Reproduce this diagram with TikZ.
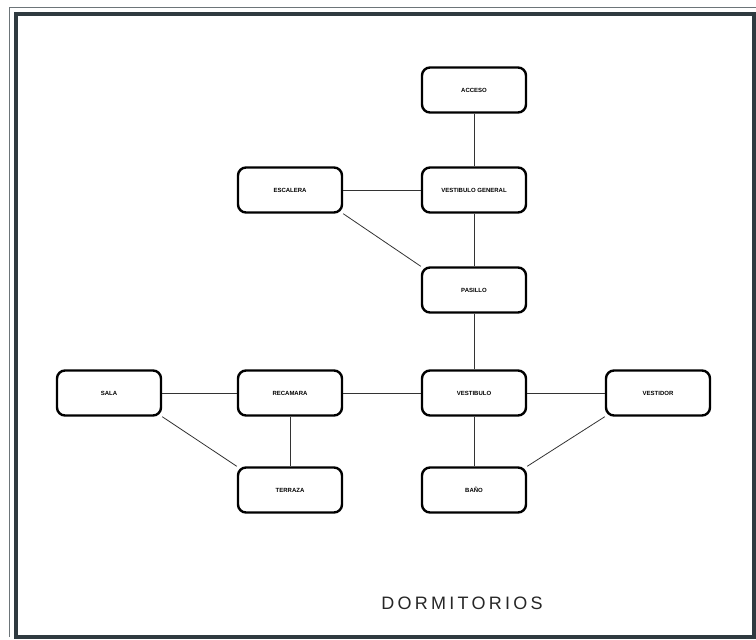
\documentclass[tikz,border=0pt]{standalone}
\usepackage{fontspec}
\setmainfont{Liberation Sans}
\newfontfamily\titlefont[LetterSpace=18]{Liberation Sans}
\usetikzlibrary{positioning}
\definecolor{frameclr}{HTML}{2F3A40}

\begin{document}
\begin{tikzpicture}[x=1pt,y=1pt,
  zona/.style={draw,line width=2.4pt,rounded corners=8pt,minimum width=104pt,minimum height=45pt,inner sep=1pt,font=\fontsize{6}{7}\selectfont\bfseries},
  enlace/.style={line width=0.8pt,draw=black!80},
  node distance=52.6pt and 77.6pt]
\useasboundingbox (0,0) rectangle (756,-640);
% marco
\draw[frameclr!70,line width=1pt] (9,-637) -- (9,-7.5) -- (756,-7.5);
\draw[frameclr,line width=4pt] (15.5,-14) rectangle (753.5,-636.5);
% recintos
\node[zona] (acc) at (474,-90) {ACCESO};
\node[zona,below=of acc] (vgen) {VESTIBULO GENERAL};
\node[zona,left=of vgen] (esc) {ESCALERA};
\node[zona,below=of vgen] (pas) {PASILLO};
\node[zona,below=55.6pt of pas] (vest) {VESTIBULO};
\node[zona,left=of vest] (rec) {RECAMARA};
\node[zona,left=74.6pt of rec] (sala) {SALA};
\node[zona,right=of vest] (vdor) {VESTIDOR};
\node[zona,below=49.6pt of rec] (ter) {TERRAZA};
\node[zona,below=49.6pt of vest] (bano) {BAÑO};
\node[font=\titlefont\fontsize{18}{20}\selectfont,text=black!85] (titulo) at (462,-603) {DORMITORIOS};
% conexiones
\draw[enlace] (acc)--(vgen);
\draw[enlace] (esc)--(vgen);
\draw[enlace] (esc.south east)--(pas.north west);
\draw[enlace] (vgen)--(pas);
\draw[enlace] (pas)--(vest);
\draw[enlace] (sala)--(rec);
\draw[enlace] (rec)--(vest);
\draw[enlace] (vest)--(vdor);
\draw[enlace] (sala.south east)--(ter.north west);
\draw[enlace] (rec)--(ter);
\draw[enlace] (vest)--(bano);
\draw[enlace] (bano.north east)--(vdor.south west);
\end{tikzpicture}
\end{document}
